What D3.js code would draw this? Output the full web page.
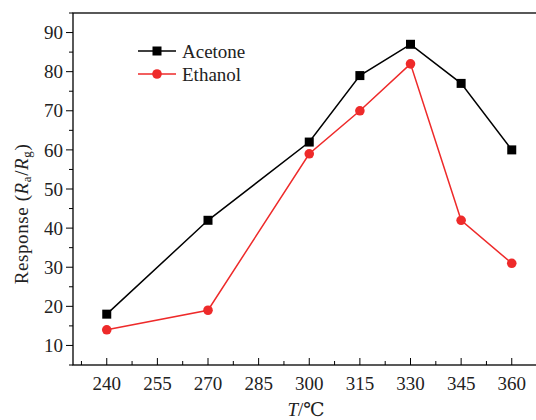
<!DOCTYPE html>
<html>
<head>
<meta charset="utf-8">
<script src="https://d3js.org/d3.v7.min.js"></script>
<style>
  html, body { margin: 0; padding: 0; background: #fff; }
  svg { display: block; font-family: "Liberation Serif", "DejaVu Serif", serif; }
</style>
</head>
<body>
<svg id="chart" width="536" height="420"></svg>
<script>
// data
var temps = [240, 270, 300, 315, 330, 345, 360];
var acetone = [18, 42, 62, 79, 87, 77, 60];
var ethanol = [14, 19, 59, 70, 82, 42, 31];
var xTicks = [240, 255, 270, 285, 300, 315, 330, 345, 360];
var yTicks = [10, 20, 30, 40, 50, 60, 70, 80, 90];

var svg = d3.select("#chart");
var padL = 73, padT = 13, padB = 365;

var x = d3.scaleLinear().domain([230, 370]).range([padL, padL + 140 * 3.375]);
var y = d3.scaleLinear().domain([5, 95]).range([padB, padT]);
var padR = x(370);

var fs = 19;

// frame
svg.append("rect")
  .attr("x", padL).attr("y", padT)
  .attr("width", padR - padL).attr("height", padB - padT)
  .attr("fill", "none").attr("stroke", "#000").attr("stroke-width", 1.3);

// y ticks (outside)
var yMinor = d3.range(5, 96, 5);
svg.selectAll(".ytick").data(yMinor).enter().append("line")
  .attr("x1", padL).attr("x2", function(d) { return d % 10 === 0 ? padL - 7 : padL - 4; })
  .attr("y1", function(d) { return y(d); }).attr("y2", function(d) { return y(d); })
  .attr("stroke", "#000").attr("stroke-width", 1);

svg.selectAll(".ylab").data(yTicks).enter().append("text")
  .attr("x", padL - 10).attr("y", function(d) { return y(d); })
  .attr("dy", "0.35em").attr("text-anchor", "end")
  .attr("font-size", fs).attr("fill", "#222")
  .text(function(d) { return d; });

// x ticks (inside)
var xMinor = d3.range(232.5, 370, 7.5);
svg.selectAll(".xtick").data(xMinor).enter().append("line")
  .attr("x1", function(d) { return x(d); }).attr("x2", function(d) { return x(d); })
  .attr("y1", padB).attr("y2", function(d) { return (d % 15 === 0) ? padB - 7 : padB - 4; })
  .attr("stroke", "#000").attr("stroke-width", 1);

svg.selectAll(".xlab").data(xTicks).enter().append("text")
  .attr("x", function(d) { return x(d); }).attr("y", 383)
  .attr("dy", "0.35em").attr("text-anchor", "middle")
  .attr("font-size", fs).attr("fill", "#222")
  .text(function(d) { return d; });

// axis titles
var xt = svg.append("text")
  .attr("x", 306).attr("y", 416).attr("text-anchor", "middle")
  .attr("font-size", fs).attr("fill", "#222");
xt.append("tspan").attr("font-style", "italic").text("T");
xt.append("tspan").text("/\u2103");

var yt = svg.append("text")
  .attr("transform", "translate(28,214) rotate(-90)")
  .attr("text-anchor", "middle").attr("font-size", fs).attr("fill", "#222")
  .attr("letter-spacing", 0.6);
yt.append("tspan").text("Response (");
yt.append("tspan").attr("font-style", "italic").text("R");
yt.append("tspan").attr("font-size", 13).attr("dy", 3).text("a");
yt.append("tspan").attr("dy", -3).text("/");
yt.append("tspan").attr("font-style", "italic").text("R");
yt.append("tspan").attr("font-size", 13).attr("dy", 3).text("g");
yt.append("tspan").attr("dy", -3).text(")");

// series
var series = [
  { name: "Acetone", values: acetone, color: "#000000", shape: "square" },
  { name: "Ethanol", values: ethanol, color: "#ee2a2a", shape: "circle" }
];

var line = d3.line()
  .x(function(d, i) { return x(temps[i]); })
  .y(function(d) { return y(d); });

function marker(g, shape, cx, cy, color) {
  if (shape === "square") {
    g.append("rect").attr("x", cx - 4.5).attr("y", cy - 4.5)
      .attr("width", 9).attr("height", 9).attr("fill", color);
  } else {
    g.append("circle").attr("cx", cx).attr("cy", cy).attr("r", 4.8).attr("fill", color);
  }
}

series.forEach(function(s) {
  svg.append("path").datum(s.values)
    .attr("d", line).attr("fill", "none")
    .attr("stroke", s.color).attr("stroke-width", 1.5);
  var g = svg.append("g");
  s.values.forEach(function(v, i) { marker(g, s.shape, x(temps[i]), y(v), s.color); });
});

// legend
series.forEach(function(s, i) {
  var ly = 51 + i * 23;
  var g = svg.append("g");
  g.append("line").attr("x1", 138).attr("x2", 176).attr("y1", ly).attr("y2", ly)
    .attr("stroke", s.color).attr("stroke-width", 1.5);
  marker(g, s.shape, 157, ly, s.color);
  g.append("text").attr("x", 182).attr("y", ly).attr("dy", "0.35em")
    .attr("font-size", fs).attr("fill", "#222").text(s.name);
});
</script>
</body>
</html>
